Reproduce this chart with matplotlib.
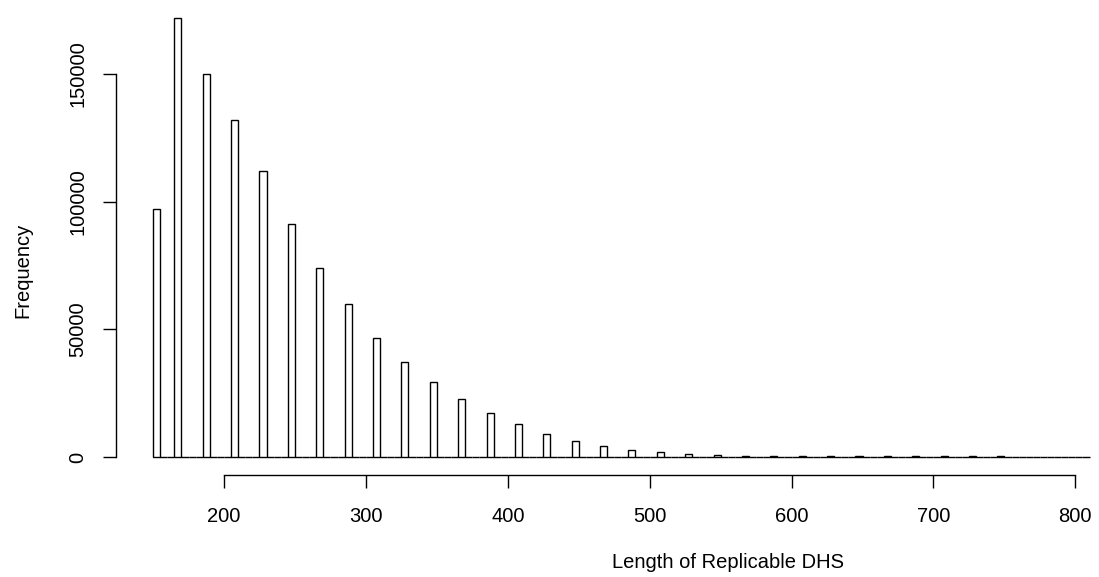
import numpy as np
import matplotlib
matplotlib.use("Agg")
import matplotlib.pyplot as plt

plt.rcParams['font.family'] = ['Liberation Sans', 'DejaVu Sans']

# DHS lengths (bp) and how many replicable DHS have that length
lengths = [150, 170, 190, 210, 230, 250, 270, 290, 310, 330, 350, 370, 390,
           410, 430, 450, 470, 490, 510, 530, 550, 570, 590, 610, 630, 650,
           670, 690, 710, 730, 750]
counts = [97000, 172000, 150000, 132000, 112000, 91400, 73800, 59700, 46400,
          37200, 29400, 22900, 17300, 12800, 8870, 6250, 4400, 2850, 1950,
          1290, 780, 500, 380, 320, 290, 270, 260, 250, 240, 230, 220]

# histogram breaks (R style, right-closed bins of width 5)
breaks = np.arange(150, 815, 5)
freq = np.zeros(len(breaks) - 1)
for L, c in zip(lengths, counts):
    i = max(np.searchsorted(breaks, L) - 1, 0)
    freq[i] = c

W, H = 1099, 577
fig = plt.figure(figsize=(W / 100, H / 100), dpi=100)
left, right, top, bottom = 115.6, 1127, 0, 474.6
ax = fig.add_axes([left / W, 1 - bottom / H, (right - left) / W, (bottom - top) / H])

ax.bar(breaks[:-1], freq, width=5, align='edge', facecolor='white',
       edgecolor='black', linewidth=1.0)

ax.set_xlim(123.6, 836.4)
ax.set_ylim(-6880, 178880)
for s in ['top', 'right']:
    ax.spines[s].set_visible(False)
ax.spines['left'].set_bounds(0, 150000)
ax.spines['bottom'].set_bounds(200, 800)
ax.spines['left'].set_linewidth(1.0)
ax.spines['bottom'].set_linewidth(1.0)

ax.set_xticks([200, 300, 400, 500, 600, 700, 800])
ax.set_yticks([0, 50000, 100000, 150000])
ax.set_yticklabels(['0', '50000', '100000', '150000'], rotation=90, va='center')
ax.tick_params(axis='both', length=9.5, width=1.0, labelsize=14.5, direction='out')
ax.tick_params(axis='x', pad=13.5)
ax.tick_params(axis='y', pad=11)

fig.text(612 / W + (845 - 612) / 2 / W, 1 - 563 / H, 'Length of Replicable DHS',
         ha='center', va='center', fontsize=14.5)
fig.text(23 / W, 1 - 270 / H, 'Frequency', ha='center', va='center',
         rotation=90, fontsize=14.5)

fig.savefig('out.png', dpi=100)
